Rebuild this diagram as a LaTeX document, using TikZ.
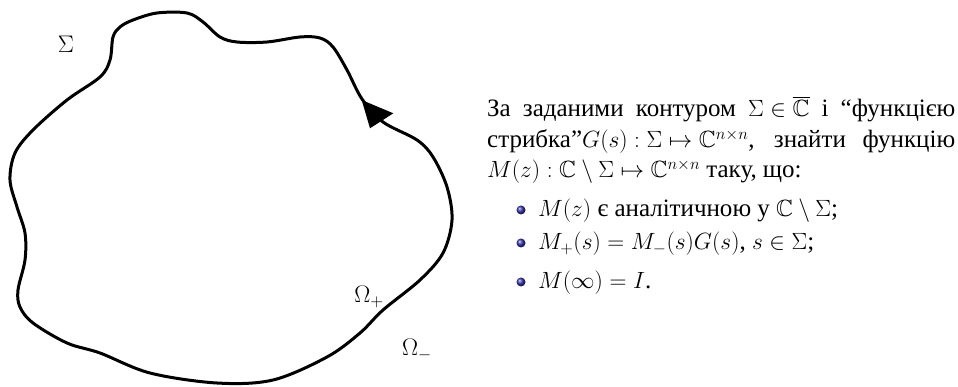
\RequirePackage{fix-cm}
\documentclass[tikz,border=0pt]{standalone}
\usepackage{amsmath,amssymb}
\usepackage{fontspec}
\setmainfont[Scale=1.064]{Liberation Serif}
\newfontfamily\cyrserif[Scale=1.064]{Liberation Serif}
\usetikzlibrary{shapes.geometric}
\definecolor{beamerblue}{rgb}{0.2,0.2,0.7}
\newcommand{\fixedmath}{\thickmuskip=5mu\medmuskip=4mu\thinmuskip=3mu}
\tikzset{
  txt/.style={anchor=base west, inner sep=0pt, font=\cyrserif\fontsize{23.5}{31}\selectfont\fixedmath},
  lbl/.style={inner sep=0pt, font=\fontsize{24}{31}\selectfont},
  contour/.style={line width=3pt, line join=round},
  bul/.style={ball color=beamerblue},
}
\begin{document}
\begin{tikzpicture}[x=1pt,y=-1pt]
\useasboundingbox (0,0) rectangle (958,387);
% contour
\draw[contour] plot[smooth cycle, tension=0.55] coordinates {
 (113,37) (120,27) (133,20) (157,13) (187,13) (203,22) (220,37) (237,42)
 (267,42) (300,37) (320,38) (333,47) (347,70) (362,99) (383,122)
 (417,140) (433,157) (447,187) (452,220) (443,253) (420,280) (383,310)
 (360,333) (327,357) (273,380) (217,383) (150,373) (100,353) (67,343)
 (33,323) (20,307) (18,290) (25,260) (25,233) (17,207) (10,180) (15,153)
 (33,130) (67,100) (100,77) (110,60)};
% arrow head
\fill (361.7,100) -- (393.3,113.3) -- (370,128.3) -- cycle;
% labels
\node[lbl] (sig) at (66,44) {$\Sigma$};
\node[lbl] (op) at (369,297) {$\Omega_+$};
\node[lbl] (om) at (417,350) {$\Omega_-$};
% text
\node[txt] (l1) at (487,117) {\makebox[468pt][s]{За заданими контуром $\Sigma\in\overline{\mathbb{C}}$ і “функцією}};
\node[txt] (l2) at (487,148) {\makebox[468pt][s]{стрибка”$G(s):\Sigma\mapsto\mathbb{C}^{n\times n}$, знайти функцію}};
\node[txt] (l3) at (487,178) {$M(z):\mathbb{C}\setminus\Sigma\mapsto\mathbb{C}^{n\times n}$ таку, що:};
\shade[bul] (521,210) circle (4.5);
\shade[bul] (521,243) circle (4.5);
\shade[bul] (521,282) circle (4.5);
\node[txt] (b1) at (538,217) {$M(z)$ є аналітичною у $\mathbb{C}\setminus\Sigma$;};
\node[txt] (b2) at (538,250) {$M_+(s)=M_-(s)G(s)$, $s\in\Sigma$;};
\node[txt] (b3) at (538,288) {$M(\infty)=I$.};
\end{tikzpicture}
\end{document}
